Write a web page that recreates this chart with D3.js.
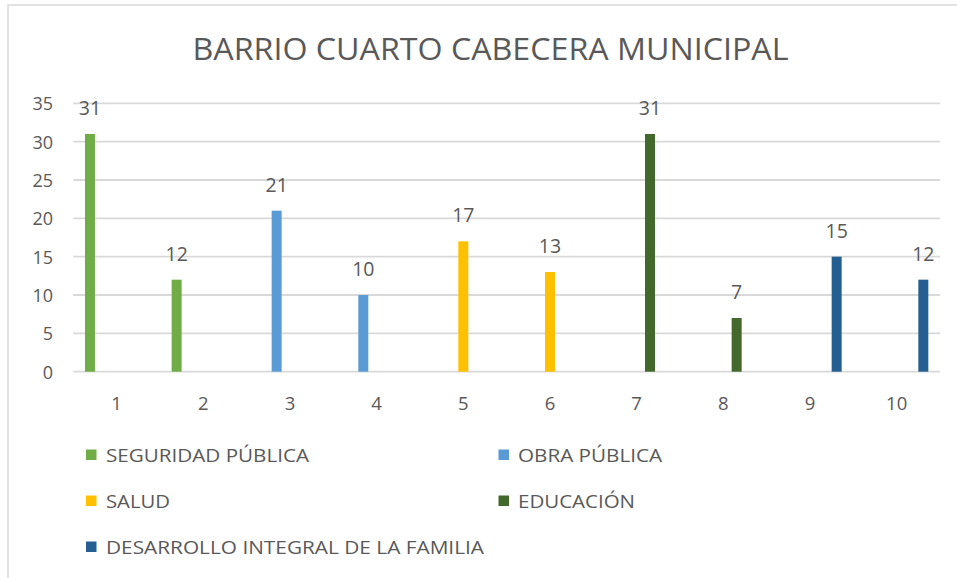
<!DOCTYPE html>
<html>
<head>
<meta charset="utf-8">
<script src="https://cdn.jsdelivr.net/npm/d3@7"></script>
<style>
  html, body { margin: 0; padding: 0; background: #ffffff; }
  svg { display: block; }
  text { font-family: "Open Sans", "Liberation Sans", sans-serif; fill: #595959; }
</style>
</head>
<body>
<svg id="chart" width="957" height="578"></svg>
<script>
// ---- Data ----
const title = "BARRIO CUARTO CABECERA MUNICIPAL";
const categories = ["1", "2", "3", "4", "5", "6", "7", "8", "9", "10"];
const seriesNames = ["SEGURIDAD PÚBLICA", "OBRA PÚBLICA", "SALUD", "EDUCACIÓN", "DESARROLLO INTEGRAL DE LA FAMILIA"];
const seguridadPublica = [31, 12, 0, 0, 0, 0, 0, 0, 0, 0];
const obraPublica      = [0, 0, 21, 10, 0, 0, 0, 0, 0, 0];
const salud            = [0, 0, 0, 0, 17, 13, 0, 0, 0, 0];
const educacion        = [0, 0, 0, 0, 0, 0, 31, 7, 0, 0];
const desarrolloFamilia= [0, 0, 0, 0, 0, 0, 0, 0, 15, 12];
const yTicks = [0, 5, 10, 15, 20, 25, 30, 35];
const seriesColors = ["#70ad47", "#5b9bd5", "#ffc000", "#43682b", "#255e91"];
const legendWidths = [203, 144, 64, 117, 378];

const seriesValues = [seguridadPublica, obraPublica, salud, educacion, desarrolloFamilia];

// ---- Layout ----
const svg = d3.select("#chart");
const plotLeft = 73.3, plotRight = 940, plotTop = 103.3, plotBottom = 371.7;

// chart border (extends beyond the visible area on right/bottom)
svg.append("rect")
  .attr("x", 8).attr("y", 5)
  .attr("width", 1000).attr("height", 1000)
  .attr("fill", "none")
  .attr("stroke", "#d9d9d9")
  .attr("stroke-width", 1.5);

// title
svg.append("text")
  .attr("x", 490.5).attr("y", 60)
  .attr("text-anchor", "middle")
  .attr("font-size", 31)
  .attr("textLength", 596)
  .attr("lengthAdjust", "spacingAndGlyphs")
  .text(title);

const x = d3.scaleBand().domain(categories).range([plotLeft, plotRight]).padding(0);
const xs = d3.scaleBand().domain(seriesNames)
  .range([x.bandwidth() / 2 - 33.33, x.bandwidth() / 2 + 33.33])
  .paddingInner(0.25).paddingOuter(0.125);
const y = d3.scaleLinear().domain([0, 35]).range([plotBottom, plotTop]);

// gridlines
svg.append("g")
  .selectAll("line")
  .data(yTicks)
  .join("line")
  .attr("x1", plotLeft).attr("x2", plotRight)
  .attr("y1", d => y(d)).attr("y2", d => y(d))
  .attr("stroke", "#d9d9d9")
  .attr("stroke-width", 1.8);

// y axis labels
const yAxis = d3.axisLeft(y).tickValues(yTicks).tickSize(0).tickPadding(0);
const gy = svg.append("g").attr("transform", "translate(53,0)").call(yAxis);
gy.select(".domain").remove();
gy.selectAll("text")
  .attr("font-size", 18)
  .attr("font-family", "\"Open Sans\", sans-serif")
  .attr("fill", "#595959")
  .attr("dy", "0.36em");

// x axis labels
const xAxis = d3.axisBottom(x).tickSize(0).tickPadding(0);
const gx = svg.append("g").attr("transform", "translate(0,397)").call(xAxis);
gx.select(".domain").remove();
gx.selectAll("text")
  .attr("font-size", 18.5)
  .attr("font-family", "\"Open Sans\", sans-serif")
  .attr("fill", "#595959")
  .attr("dy", "0.71em");

// bars
const barData = [];
seriesNames.forEach((s, si) => {
  categories.forEach((c, ci) => {
    barData.push({ series: s, si, cat: c, value: seriesValues[si][ci] });
  });
});
const nonZero = barData.filter(d => d.value > 0);

svg.append("g")
  .selectAll("rect")
  .data(nonZero)
  .join("rect")
  .attr("x", d => x(d.cat) + xs(d.series))
  .attr("width", xs.bandwidth())
  .attr("y", d => y(d.value))
  .attr("height", d => y(0) - y(d.value))
  .attr("fill", d => seriesColors[d.si]);

// data labels
svg.append("g")
  .selectAll("text")
  .data(nonZero)
  .join("text")
  .attr("x", d => x(d.cat) + xs(d.series) + xs.bandwidth() / 2)
  .attr("y", d => y(d.value) - 19)
  .attr("text-anchor", "middle")
  .attr("font-size", 19.5)
  .text(d => d.value);

// legend
const legendPos = [
  { mx: 86, tx: 106, by: 462 },
  { mx: 498.5, tx: 518, by: 462 },
  { mx: 86, tx: 106, by: 508 },
  { mx: 498.5, tx: 518, by: 508 },
  { mx: 86, tx: 106, by: 554 }
];
const lg = svg.append("g")
  .selectAll("g")
  .data(seriesNames)
  .join("g");
lg.append("rect")
  .attr("x", (d, i) => legendPos[i].mx)
  .attr("y", (d, i) => legendPos[i].by - 12.5)
  .attr("width", 10.5).attr("height", 10.5)
  .attr("fill", (d, i) => seriesColors[i]);
lg.append("text")
  .attr("x", (d, i) => legendPos[i].tx)
  .attr("y", (d, i) => legendPos[i].by)
  .attr("font-size", 19)
  .attr("textLength", (d, i) => legendWidths[i])
  .attr("lengthAdjust", "spacingAndGlyphs")
  .text(d => d);
</script>
</body>
</html>
